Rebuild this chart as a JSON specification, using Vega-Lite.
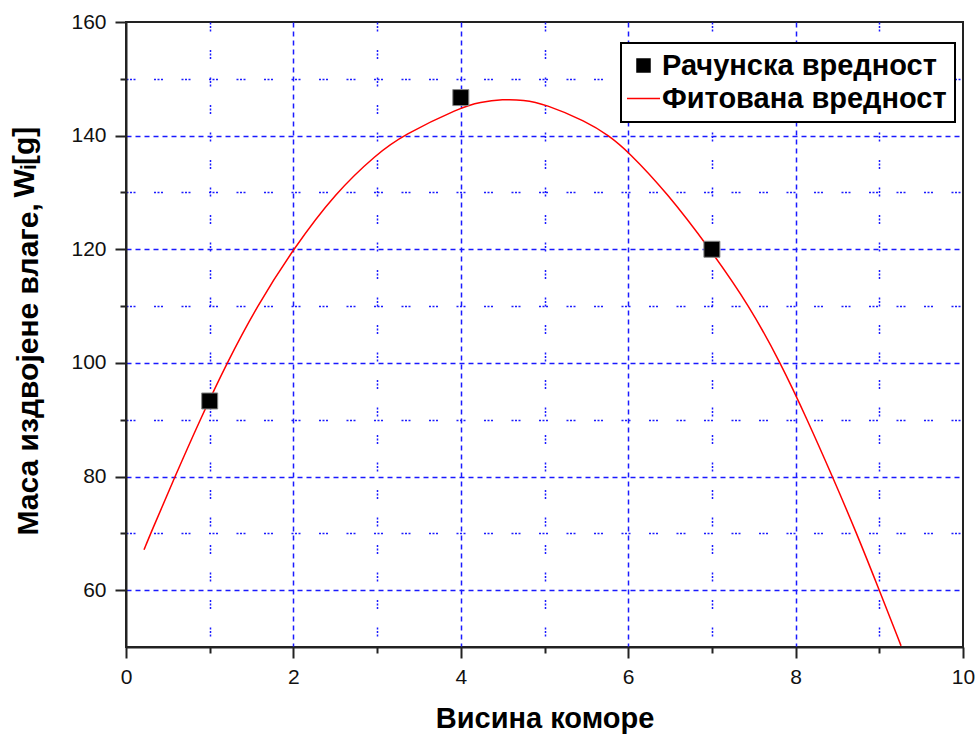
{
  "$schema": "https://vega.github.io/schema/vega-lite/v6.json",
  "autosize": "none",
  "padding": {"left": 126, "top": 22, "right": 14, "bottom": 87},
  "width": 837,
  "height": 625,
  "background": "white",
  "config": {
    "font": "Liberation Sans",
    "view": {"stroke": "#222", "strokeWidth": 2}
  },
  "datasets": {
    "measured": [
      {"visina": 1, "masa": 93.3, "serija": "Рачунска вредност"},
      {"visina": 4, "masa": 146.7, "serija": "Рачунска вредност"},
      {"visina": 7, "masa": 120.0, "serija": "Рачунска вредност"}
    ],
    "fitted": [
      {"visina": 0.215, "masa": 67.1, "serija": "Фитована вредност"},
      {"visina": 0.295, "masa": 70.0, "serija": "Фитована вредност"},
      {"visina": 0.585, "masa": 80.0, "serija": "Фитована вредност"},
      {"visina": 0.885, "masa": 90.0, "serija": "Фитована вредност"},
      {"visina": 1.205, "masa": 100.0, "serija": "Фитована вредност"},
      {"visina": 1.565, "masa": 110.0, "serija": "Фитована вредност"},
      {"visina": 1.995, "masa": 120.0, "serija": "Фитована вредност"},
      {"visina": 2.505, "masa": 130.0, "serija": "Фитована вредност"},
      {"visina": 3.0, "masa": 136.8, "serija": "Фитована вредност"},
      {"visina": 3.3, "masa": 140.0, "serija": "Фитована вредност"},
      {"visina": 4.0, "masa": 145.0, "serija": "Фитована вредност"},
      {"visina": 4.23, "masa": 145.9, "serija": "Фитована вредност"},
      {"visina": 4.5, "masa": 146.4, "serija": "Фитована вредност"},
      {"visina": 4.75, "masa": 146.3, "serija": "Фитована вредност"},
      {"visina": 5.0, "masa": 145.6, "serija": "Фитована вредност"},
      {"visina": 5.5, "masa": 142.5, "serija": "Фитована вредност"},
      {"visina": 5.77, "masa": 140.0, "serija": "Фитована вредност"},
      {"visina": 6.0, "masa": 137.2, "serija": "Фитована вредност"},
      {"visina": 6.46, "masa": 130.0, "serija": "Фитована вредност"},
      {"visina": 6.98, "masa": 120.0, "serija": "Фитована вредност"},
      {"visina": 7.45, "masa": 110.0, "serija": "Фитована вредност"},
      {"visina": 7.82, "masa": 100.0, "serija": "Фитована вредност"},
      {"visina": 8.14, "masa": 90.0, "serija": "Фитована вредност"},
      {"visina": 8.44, "masa": 80.0, "serija": "Фитована вредност"},
      {"visina": 8.73, "masa": 70.0, "serija": "Фитована вредност"},
      {"visina": 9.0, "masa": 60.0, "serija": "Фитована вредност"},
      {"visina": 9.26, "masa": 50.2, "serija": "Фитована вредност"}
    ]
  },
  "resolve": {"axis": {"y": "independent"}},
  "layer": [
    {
      "data": {"name": "fitted"},
      "mark": {"type": "line", "interpolate": "basis", "strokeWidth": 1.5, "clip": true},
      "encoding": {
        "x": {
          "field": "visina", "type": "quantitative",
          "scale": {"domain": [0, 10], "nice": false, "zero": false},
          "axis": {
            "values": [0, 1, 2, 3, 4, 5, 6, 7, 8, 9, 10],
            "format": "d",
            "labelExpr": "datum.value % 2 === 0 ? datum.label : ''",
            "labelOverlap": false,
            "labelFlush": false,
            "labelFont": "Liberation Sans",
            "labelFontSize": 21,
            "labelColor": "#111",
            "labelPadding": 8,
            "tickColor": "#222",
            "tickWidth": 2,
            "tickSize": {"condition": {"test": "datum.value % 2 === 0", "value": 11}, "value": 6},
            "domainColor": "#222",
            "domainWidth": 2,
            "grid": true,
            "gridColor": "#1a1aff",
            "gridWidth": 1.5,
            "gridOpacity": {"condition": {"test": "datum.value === 0 || datum.value === 10", "value": 0}, "value": 1},
            "gridDash": {"condition": {"test": "datum.value % 2 === 0", "value": [5, 4]}, "value": [2, 1.5, 2, 1.5, 2, 18.5]},
            "title": "Висина коморе",
            "titleFont": "Liberation Sans",
            "titleFontSize": 29,
            "titleFontWeight": "bold",
            "titleColor": "black",
            "titleBaseline": "alphabetic",
            "titleY": 80
          }
        },
        "y": {
          "field": "masa", "type": "quantitative",
          "scale": {"domain": [50, 160], "nice": false, "zero": false},
          "axis": {
            "orient": "left",
            "values": [60, 70, 80, 90, 100, 110, 120, 130, 140, 150, 160],
            "format": "d",
            "labelExpr": "datum.value % 20 === 0 ? datum.label : ''",
            "labelOverlap": false,
            "labelFlush": false,
            "labelFont": "Liberation Sans",
            "labelFontSize": 21,
            "labelColor": "#111",
            "labelPadding": 9,
            "tickColor": "#222",
            "tickWidth": 2,
            "tickSize": {"condition": {"test": "datum.value % 20 === 0", "value": 11}, "value": 6},
            "domainColor": "#222",
            "domainWidth": 2,
            "grid": true,
            "gridColor": "#1a1aff",
            "gridWidth": 1.5,
            "gridOpacity": {"condition": {"test": "datum.value === 160", "value": 0}, "value": 1},
            "gridDash": {"condition": {"test": "datum.value % 20 === 0", "value": [5, 4]}, "value": [2, 1.5, 2, 1.5, 2, 18.5]},
            "title": "Маса издвојене влаге,",
            "titleFont": "Liberation Sans",
            "titleFontSize": 30,
            "titleFontWeight": "bold",
            "titleColor": "black",
            "titleAngle": 270,
            "titleAlign": "left",
            "titleBaseline": "alphabetic",
            "titleX": -89,
            "titleY": 513
          }
        },
        "color": {
          "field": "serija", "type": "nominal",
          "scale": {"domain": ["Рачунска вредност", "Фитована вредност"], "range": ["black", "#ff0000"]},
          "legend": {
            "title": null,
            "orient": "none",
            "legendX": 495,
            "legendY": 21,
            "padding": 8,
            "fillColor": "white",
            "strokeColor": "black",
            "symbolSize": 1089,
            "rowPadding": 3,
            "labelOffset": 4,
            "labelFont": "Liberation Sans",
            "labelFontSize": 29,
            "labelFontWeight": "bold",
            "labelColor": "black",
            "labelLimit": 400,
            "encode": {
              "symbols": {
                "update": {
                  "shape": {"signal": "datum.value === 'Фитована вредност' ? 'stroke' : 'square'"},
                  "size": {"signal": "datum.value === 'Фитована вредност' ? 1089 : 169"},
                  "fill": {"signal": "datum.value === 'Фитована вредност' ? 'transparent' : 'black'"},
                  "stroke": {"signal": "datum.value === 'Фитована вредност' ? '#ff0000' : 'black'"},
                  "strokeWidth": {"value": 1.5},
                  "opacity": {"value": 1}
                }
              },
              "legend": {"update": {"strokeWidth": {"value": 2}}}
            }
          }
        }
      }
    },
    {
      "data": {"name": "measured"},
      "mark": {"type": "point", "shape": "square", "filled": true, "size": 256, "opacity": 1, "stroke": "#888", "strokeWidth": 1},
      "encoding": {
        "x": {
          "field": "visina", "type": "quantitative",
          "scale": {"domain": [0, 10], "nice": false, "zero": false}
        },
        "y": {
          "field": "masa", "type": "quantitative",
          "scale": {"domain": [50, 160], "nice": false, "zero": false},
          "axis": {
            "orient": "left",
            "domain": false,
            "ticks": false,
            "labels": false,
            "grid": false,
            "title": "Wᵢ[g]",
            "titleFont": "Liberation Sans",
            "titleFontSize": 30,
            "titleFontWeight": "bold",
            "titleColor": "black",
            "titleAngle": 270,
            "titleAlign": "left",
            "titleBaseline": "alphabetic",
            "titleX": -93,
            "titleY": 175
          }
        },
        "color": {
          "field": "serija", "type": "nominal",
          "scale": {"domain": ["Рачунска вредност", "Фитована вредност"], "range": ["black", "#ff0000"]}
        }
      }
    }
  ]
}
